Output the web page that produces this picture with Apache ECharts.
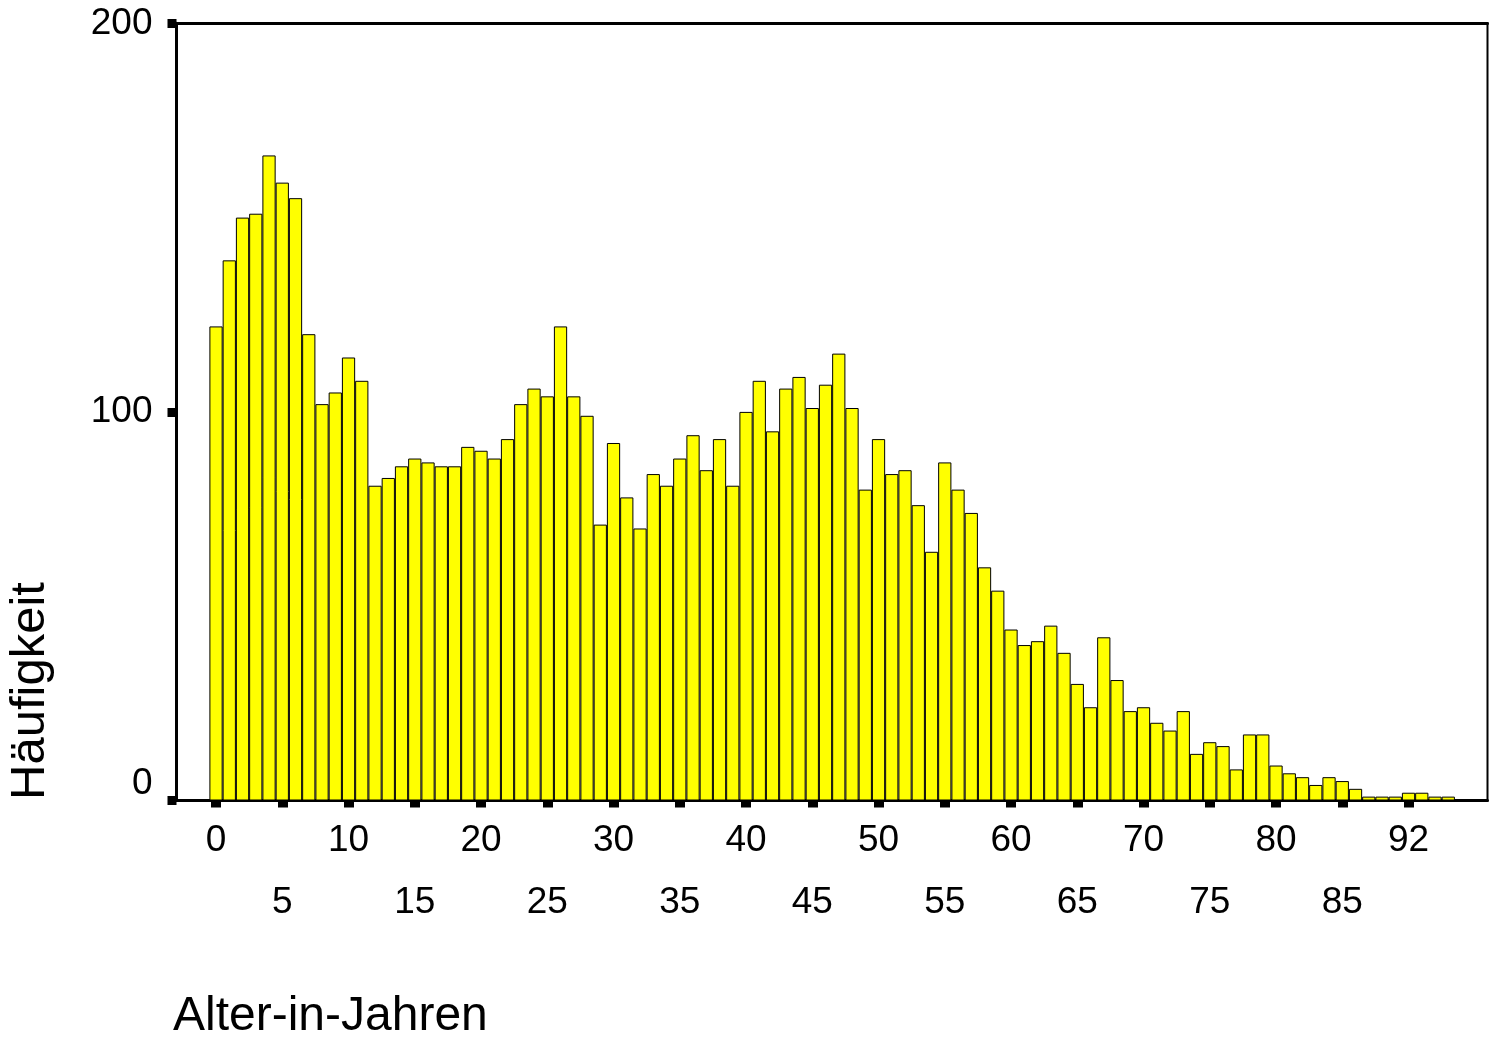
<!DOCTYPE html>
<html>
<head>
<meta charset="utf-8">
<script src="https://cdn.jsdelivr.net/npm/echarts@6/dist/echarts.min.js"></script>
<style>
    html, body { margin: 0; padding: 0; background: #fff; }
    #chart { width: 1489px; height: 1040px; }
</style>
</head>
<body>
<div id="chart"></div>
<script>
// ages present in the data (SPSS only lists existing values, so a few high ages are missing)
const ages = [
    0, 1, 2, 3, 4, 5, 6, 7, 8, 9,
    10, 11, 12, 13, 14, 15, 16, 17, 18, 19,
    20, 21, 22, 23, 24, 25, 26, 27, 28, 29,
    30, 31, 32, 33, 34, 35, 36, 37, 38, 39,
    40, 41, 42, 43, 44, 45, 46, 47, 48, 49,
    50, 51, 52, 53, 54, 55, 56, 57, 58, 59,
    60, 61, 62, 63, 64, 65, 66, 67, 68, 69,
    70, 71, 72, 73, 74, 75, 76, 77, 78, 79,
    80, 81, 82, 83, 84, 85, 86, 87, 88, 90,
    92, 93, 94, 95
];
const counts = [
    122, 139, 150, 151, 166, 159, 155, 120, 102, 105,
    114, 108, 81, 83, 86, 88, 87, 86, 86, 91,
    90, 88, 93, 102, 106, 104, 122, 104, 99, 71,
    92, 78, 70, 84, 81, 88, 94, 85, 93, 81,
    100, 108, 95, 106, 109, 101, 107, 115, 101, 80,
    93, 84, 85, 76, 64, 87, 80, 74, 60, 54,
    44, 40, 41, 45, 38, 30, 24, 42, 31, 23,
    24, 20, 18, 23, 12, 15, 14, 8, 17, 17,
    9, 7, 6, 4, 6, 5, 3, 1, 1, 1,
    2, 2, 1, 1
];
const yTicks = [0, 100, 200];

const font = "'Liberation Sans', Arial, sans-serif";
const chart = echarts.init(document.getElementById("chart"));

const option = {
    animation: false,
    backgroundColor: "#fff",
    grid: [
        {
            // frame
            left: 176.5, top: 23.3, right: 1.5, bottom: 239.5,
            show: true, borderColor: "#000", borderWidth: 2, backgroundColor: "transparent"
        },
        {
            // bars
            left: 209.4, width: 1245.5, top: 23.3, bottom: 239.5
        }
    ],
    xAxis: [
        {
            gridIndex: 0, type: "value", min: 0, max: 1, position: "bottom",
            axisLine: { onZero: false, lineStyle: { color: "#000", width: 3 } },
            axisTick: { show: false }, axisLabel: { show: false }, splitLine: { show: false }
        },
        {
            gridIndex: 0, type: "value", min: 0, max: 1, position: "top",
            axisLine: { onZero: false, lineStyle: { color: "#000", width: 3 } },
            axisTick: { show: false }, axisLabel: { show: false }, splitLine: { show: false }
        },
        {
            gridIndex: 1, type: "category", data: ages, position: "bottom",
            axisLine: { show: false, onZero: false },
            axisTick: {
                show: true,
                alignWithLabel: true,
                interval: (index) => index % 5 === 0,
                length: 7,
                lineStyle: { color: "#000", width: 10 }
            },
            axisLabel: {
                interval: (index) => index % 5 === 0,
                formatter: (value, index) => index % 10 === 0 ? String(value) : "\n" + value,
                margin: 9,
                lineHeight: 62,
                fontSize: 37,
                fontFamily: font,
                color: "#000"
            },
            splitLine: { show: false }
        }
    ],
    yAxis: [
        {
            gridIndex: 0, type: "value", min: 0, max: 200, interval: 100,
            axisLine: { show: true, onZero: false, lineStyle: { color: "#000", width: 3 } },
            axisTick: { show: true, length: 9, lineStyle: { color: "#000", width: 9 } },
            axisLabel: {
                margin: 24,
                fontSize: 37,
                lineHeight: 34,
                fontFamily: font,
                color: "#000",
                formatter: (value) => value === yTicks[0] ? value + "\n" : String(value)
            },
            splitLine: { show: false }
        },
        {
            gridIndex: 1, type: "value", min: 0, max: 200, show: false
        }
    ],
    graphic: [
        {
            type: "text",
            x: 30, y: 691,
            rotation: Math.PI / 2,
            style: {
                text: "Häufigkeit",
                font: "49px " + font,
                fill: "#000",
                align: "center",
                verticalAlign: "middle"
            }
        },
        {
            type: "text",
            x: 173, y: 1017,
            style: {
                text: "Alter-in-Jahren",
                font: "48px " + font,
                fill: "#000",
                align: "left",
                verticalAlign: "middle"
            }
        }
    ],
    series: [
        {
            name: "Häufigkeit",
            type: "bar",
            xAxisIndex: 2,
            yAxisIndex: 1,
            data: counts,
            barCategoryGap: "0%",
            itemStyle: { color: "#FFFF00", borderColor: "#000", borderWidth: 1 }
        }
    ]
};

chart.setOption(option);
</script>
</body>
</html>
